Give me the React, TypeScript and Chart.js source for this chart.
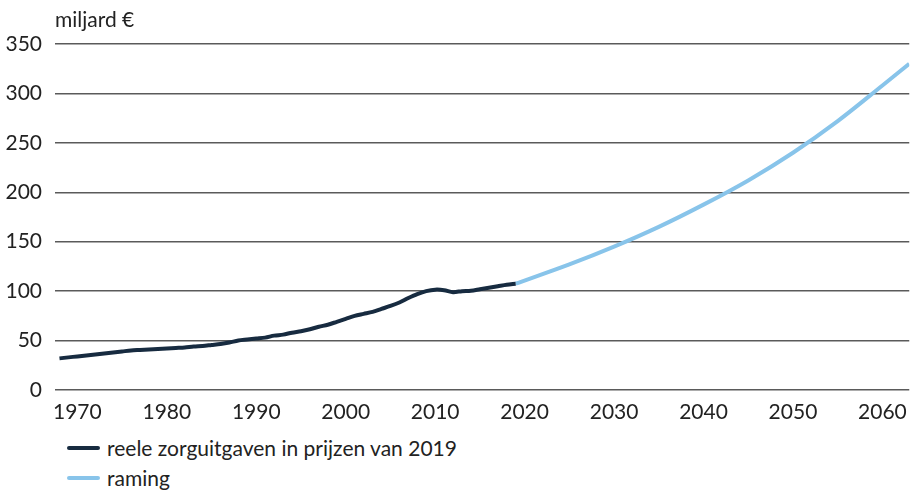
import React, { useEffect, useRef } from "react";
import { Chart, registerables } from "chart.js";

Chart.register(...registerables);

const histYears = [1968, 1969, 1970, 1971, 1972, 1973, 1974, 1975, 1976, 1977, 1978, 1979, 1980, 1981, 1982, 1983, 1984, 1985, 1986, 1987, 1988, 1989, 1990, 1991, 1992, 1993, 1994, 1995, 1996, 1997, 1998, 1999, 2000, 2001, 2002, 2003, 2004, 2005, 2006, 2007, 2008, 2009, 2010, 2011, 2012, 2013, 2014, 2015, 2016, 2017, 2018, 2019];
const histValues = [32, 33, 34, 35, 36, 37, 38, 39, 40, 40.5, 41, 41.5, 42, 42.5, 43, 44, 44.5, 45.5, 46.5, 48, 50, 51, 52, 53, 55, 56, 58, 59.5, 61.5, 64, 66, 69, 72, 75, 77, 79, 82, 85, 88.5, 93, 97, 100, 101.5, 101, 99, 100, 100.5, 102, 103.5, 105, 106.5, 107.5];
const fcYears = [2019, 2025, 2030, 2035, 2040, 2045, 2050, 2055, 2060, 2063];
const fcValues = [107.5, 127, 145, 165, 187.5, 212, 240, 272, 308, 330];
const xTicks = [1970, 1980, 1990, 2000, 2010, 2020, 2030, 2040, 2050, 2060];
const yTicks = [0, 50, 100, 150, 200, 250, 300, 350];
const seriesLabels = ["reele zorguitgaven in prijzen van 2019", "raming"];
const unitLabel = "miljard €";

const DARK = "#172b40";
const LIGHT = "#88c4ea";
const FONT = "Lato, 'Noto Sans', sans-serif";
const FS = 21;

export default function App() {
  const ref = useRef<HTMLCanvasElement | null>(null);

  useEffect(() => {
    document.body.style.margin = "0";
    const ctx = ref.current!;
    const chart = new Chart(ctx, {
      type: "line",
      data: {
        datasets: [
          {
            label: seriesLabels[0],
            data: histYears.map((x, i) => ({ x, y: histValues[i] })),
            borderColor: DARK,
            borderWidth: 4,
            pointRadius: 0,
            tension: 0.3,
            borderCapStyle: "butt",
          },
          {
            label: seriesLabels[1],
            data: fcYears.map((x, i) => ({ x, y: fcValues[i] })),
            borderColor: LIGHT,
            borderWidth: 4,
            pointRadius: 0,
            cubicInterpolationMode: "monotone",
            borderCapStyle: "butt",
          },
        ],
      },
      options: {
        responsive: false,
        animation: false,
        layout: { padding: { top: 44, left: 5, right: 7, bottom: 8 } },
        plugins: { legend: { display: false }, tooltip: { enabled: false } },
        scales: {
          x: {
            type: "linear",
            min: 1967.5,
            max: 2063,
            grid: { display: false, drawTicks: false },
            border: { display: false },
            afterBuildTicks: (scale: any) => {
              scale.ticks = xTicks.map((v) => ({ value: v }));
            },
            afterFit: (scale: any) => {
              scale.height = 34;
            },
            ticks: {
              autoSkip: false,
              maxRotation: 0,
              padding: 10,
              color: "#222",
              font: { family: FONT, size: FS },
              callback: (v: any) => String(v),
            },
          },
          y: {
            min: 0,
            max: 350,
            afterBuildTicks: (scale: any) => {
              scale.ticks = yTicks.map((v) => ({ value: v }));
            },
            afterFit: (scale: any) => {
              scale.width = 50;
            },
            grid: { color: "#5a5a5a", lineWidth: 1.5, drawTicks: false },
            border: { display: false },
            ticks: {
              padding: 13,
              color: "#222",
              font: { family: FONT, size: FS },
            },
          },
        },
      },
    } as any);
    return () => chart.destroy();
  }, []);

  const legendRow = (color: string, text: string, top: number) => (
    <div style={{ position: "absolute", left: 67, top, display: "flex", alignItems: "center", fontFamily: FONT, fontSize: FS, color: "#222", whiteSpace: "nowrap" }}>
      <span style={{ display: "inline-block", width: 33, height: 4, background: color, borderRadius: 2, marginRight: 7 }} />
      <span>{text}</span>
    </div>
  );

  return (
    <div style={{ position: "relative", width: 917, height: 491, background: "#fff", overflow: "hidden" }}>
      <canvas ref={ref} width={917} height={432} style={{ position: "absolute", left: 0, top: 0 }} />
      <div style={{ position: "absolute", left: 55, top: 6, fontFamily: FONT, fontSize: FS, color: "#222" }}>{unitLabel}</div>
      {legendRow(DARK, seriesLabels[0], 435)}
      {legendRow(LIGHT, seriesLabels[1], 465)}
    </div>
  );
}
